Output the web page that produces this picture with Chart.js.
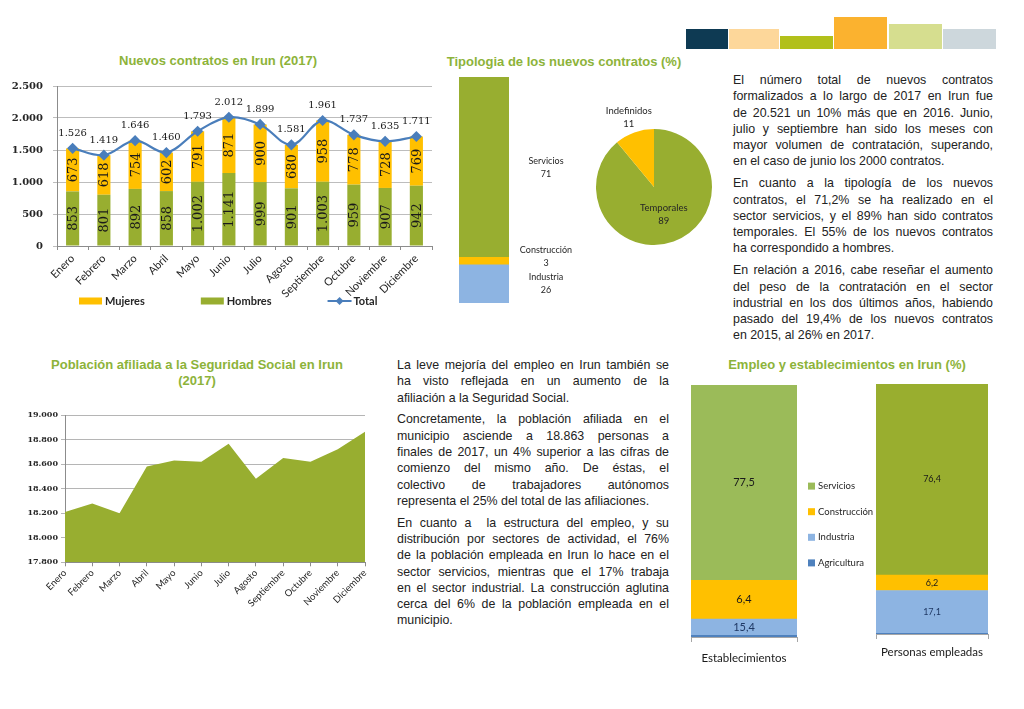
<!DOCTYPE html>
<html lang="es">
<head>
<meta charset="utf-8">
<title>Empleo y contratación en Irun (2017)</title>
<script src="https://cdn.jsdelivr.net/npm/chart.js@4.4.1/dist/chart.umd.min.js"></script>
<style>
  html, body { margin: 0; padding: 0; background: #fff; }
  body { position: relative; width: 1024px; height: 709px; overflow: hidden; font-family: "Liberation Sans", Arial, sans-serif; }
  canvas, .titulo, .texto, .deco { position: absolute; }
  .titulo { color: #8db33a; font-weight: bold; font-size: 13px; line-height: 16px; text-align: center; }
  .texto { font-size: 12.4px; line-height: 16.3px; color: #222; }
  .texto p { margin: 0 0 5.5px; }
  .texto span { display: block; white-space: nowrap; text-align: justify; text-align-last: justify; }
  .texto span:last-child { text-align-last: left; }
</style>
</head>
<body>

<div class="deco" style="left:686px;top:29px;width:42px;height:20px;background:#0e3a53"></div>
<div class="deco" style="left:729px;top:29px;width:50px;height:20px;background:#fdd79a"></div>
<div class="deco" style="left:780px;top:36px;width:53px;height:13px;background:#b2c01b"></div>
<div class="deco" style="left:834px;top:17px;width:53px;height:32px;background:#fbb22f"></div>
<div class="deco" style="left:889px;top:24px;width:53px;height:25px;background:#d6de8f"></div>
<div class="deco" style="left:943px;top:29px;width:53px;height:20px;background:#cdd7dc"></div>

<div class="titulo" style="left:0;top:53px;width:436px">Nuevos contratos en Irun (2017)</div>
<div class="titulo" style="left:440px;top:54px;width:248px">Tipologia de los nuevos contratos (%)</div>
<div class="titulo" style="left:0;top:357px;width:394px">Población afiliada a la Seguridad Social en Irun<br>(2017)</div>
<div class="titulo" style="left:700px;top:357px;width:294px">Empleo y establecimientos en Irun (%)</div>

<canvas id="graficoContratos" width="440" height="246" style="left:0;top:70px"></canvas>
<canvas id="graficoSector" width="160" height="240" style="left:440px;top:70px"></canvas>
<canvas id="graficoTipo" width="140" height="160" style="left:580px;top:95px"></canvas>
<canvas id="graficoAfiliados" width="390" height="235" style="left:0;top:395px"></canvas>
<canvas id="graficoEstab" width="195" height="295" style="left:680px;top:375px"></canvas>
<canvas id="graficoPersonas" width="135" height="295" style="left:865px;top:375px"></canvas>

<div class="texto" style="left:733px;top:72px;width:260px">
  <p>
    <span>El número total de nuevos contratos</span>
    <span>formalizados a lo largo de 2017 en Irun fue</span>
    <span>de 20.521 un 10% más que en 2016. Junio,</span>
    <span>julio y septiembre han sido los meses con</span>
    <span>mayor volumen de contratación, superando,</span>
    <span>en el caso de junio los 2000 contratos.</span>
  </p>
  <p>
    <span>En cuanto a la tipología de los nuevos</span>
    <span>contratos, el 71,2% se ha realizado en el</span>
    <span>sector servicios, y el 89% han sido contratos</span>
    <span>temporales. El 55% de los nuevos contratos</span>
    <span>ha correspondido a hombres.</span>
  </p>
  <p>
    <span>En relación a 2016, cabe reseñar el aumento</span>
    <span>del peso de la contratación en el sector</span>
    <span>industrial en los dos últimos años, habiendo</span>
    <span>pasado del 19,4% de los nuevos contratos</span>
    <span>en 2015, al 26% en 2017.</span>
  </p>
</div>

<div class="texto" style="left:397px;top:357px;width:272px">
  <p>
    <span>La leve mejoría del empleo en Irun también se</span>
    <span>ha visto reflejada en un aumento de la</span>
    <span>afiliación a la Seguridad Social.</span>
  </p>
  <p>
    <span>Concretamente, la población afiliada en el</span>
    <span>municipio asciende a 18.863 personas a</span>
    <span>finales de 2017, un 4% superior a las cifras de</span>
    <span>comienzo del mismo año. De éstas, el</span>
    <span>colectivo de trabajadores autónomos</span>
    <span>representa el 25% del total de las afiliaciones.</span>
  </p>
  <p>
    <span>En cuanto a &nbsp;la estructura del empleo, y su</span>
    <span>distribución por sectores de actividad, el 76%</span>
    <span>de la población empleada en Irun lo hace en el</span>
    <span>sector servicios, mientras que el 17% trabaja</span>
    <span>en el sector industrial. La construcción aglutina</span>
    <span>cerca del 6% de la población empleada en el</span>
    <span>municipio.</span>
  </p>
</div>

<script>
// --- datos ---
const meses = ['Enero', 'Febrero', 'Marzo', 'Abril', 'Mayo', 'Junio', 'Julio',
  'Agosto', 'Septiembre', 'Octubre', 'Noviembre', 'Diciembre'];
const hombres = [853, 801, 892, 858, 1002, 1141, 999, 901, 1003, 959, 907, 942];
const mujeres = [673, 618, 754, 602, 791, 871, 900, 680, 958, 778, 728, 769];
const totalContratos = [1526, 1419, 1646, 1460, 1793, 2012, 1899, 1581, 1961, 1737, 1635, 1711];

const sectoresContrato = ['Industria', 'Construcción', 'Servicios'];
const pctSectoresContrato = [26, 3, 71];

const tiposContrato = ['Temporales', 'Indefinidos'];
const pctTiposContrato = [89, 11];

const afiliados = [18210, 18280, 18200, 18580, 18630, 18620, 18765, 18480, 18650, 18620, 18720, 18863];

const empleoCategorias = ['Establecimientos', 'Personas empleadas'];
// alturas de los tramos tal como se ven
const empServicios = [77.5, 76.4];
const empConstruccion = [15.4, 6.2];
const empIndustria = [6.4, 17.1];
const empAgricultura = [0.7, 0.3];
// rótulos impresos en el original (en Establecimientos van cruzados con la altura)
const rotuloServicios = ['77,5', '76,4'];
const rotuloConstruccion = ['6,4', '6,2'];
const rotuloIndustria = ['15,4', '17,1'];

// --- colores ---
const verde = '#98ae30';
const amarillo = '#ffc000';
const azulLinea = '#4a7ebb';
const azulClaro = '#8db4e2';
const azulOscuro = '#4f81bd';
const verdeServicios = ['#9bbb59', '#99ae2f'];

Chart.defaults.font.family = 'Lato';
Chart.defaults.color = '#262626';
Chart.defaults.animation = false;
Chart.defaults.responsive = false;
Chart.defaults.plugins.legend.display = false;
Chart.defaults.plugins.tooltip.enabled = false;

const miles = n => String(n).replace(/\B(?=(\d{3})+(?!\d))/g, '.');

// ---------- Nuevos contratos ----------
const etiquetasContratos = {
  id: 'etiquetasContratos',
  afterDatasetsDraw(chart) {
    const ctx = chart.ctx;
    ctx.save();
    ctx.textAlign = 'center';
    ctx.textBaseline = 'middle';
    ctx.fillStyle = '#1a1a1a';
    chart.data.datasets.forEach((ds, i) => {
      chart.getDatasetMeta(i).data.forEach((el, j) => {
        const txt = miles(ds.data[j]);
        if (ds.type === 'line') {
          ctx.font = '10px "DejaVu Serif"';
          ctx.fillText(txt, el.x, el.y - 15);
        } else {
          ctx.save();
          ctx.translate(el.x, (el.y + el.base) / 2);
          ctx.rotate(-Math.PI / 2);
          ctx.font = '13px "DejaVu Serif"';
          ctx.fillText(txt, 0, 1);
          ctx.restore();
        }
      });
    });
    ctx.restore();
  }
};

// leyenda a mano: Mujeres, Hombres, Total
const leyendaContratos = {
  id: 'leyendaContratos',
  afterDraw(chart) {
    const ctx = chart.ctx;
    const y = chart.chartArea.bottom + 55;
    let x = 79;
    ctx.save();
    ctx.font = 'bold 11px Lato';
    ctx.textBaseline = 'middle';
    [2, 1, 0].forEach(i => {
      const ds = chart.data.datasets[i];
      if (ds.type === 'line') {
        ctx.strokeStyle = ds.borderColor;
        ctx.fillStyle = ds.borderColor;
        ctx.lineWidth = 2;
        ctx.beginPath();
        ctx.moveTo(x, y);
        ctx.lineTo(x + 24, y);
        ctx.stroke();
        ctx.beginPath();
        ctx.moveTo(x + 12, y - 4); ctx.lineTo(x + 16, y); ctx.lineTo(x + 12, y + 4); ctx.lineTo(x + 8, y);
        ctx.closePath();
        ctx.fill();
        x += 26;
      } else {
        ctx.fillStyle = ds.backgroundColor;
        ctx.fillRect(x, y - 3.5, 23, 7);
        x += 26;
      }
      ctx.fillStyle = '#262626';
      ctx.fillText(ds.label, x, y);
      x += ctx.measureText(ds.label).width + 56;
    });
    ctx.restore();
  }
};

new Chart(document.getElementById('graficoContratos'), {
  type: 'bar',
  data: {
    labels: meses,
    datasets: [
      {
        type: 'line', label: 'Total', data: totalContratos, stack: 'total', order: 0,
        borderColor: azulLinea, backgroundColor: azulLinea, borderWidth: 2.25,
        pointStyle: 'rectRot', pointRadius: 4, pointBackgroundColor: azulLinea,
        tension: 0.35
      },
      { label: 'Hombres', data: hombres, stack: 'sexo', order: 1, backgroundColor: verde },
      { label: 'Mujeres', data: mujeres, stack: 'sexo', order: 1, backgroundColor: amarillo }
    ]
  },
  options: {
    layout: { padding: { top: 10, right: 8, left: 0, bottom: 0 } },
    datasets: { bar: { barPercentage: 0.42, categoryPercentage: 1 } },
    scales: {
      x: {
        stacked: true,
        grid: { drawOnChartArea: false, tickLength: 4, color: '#8c8c8c' },
        border: { color: '#8c8c8c' },
        ticks: { autoSkip: false, minRotation: 45, maxRotation: 45, padding: 2, font: { size: 11 } },
        afterFit(s) { s.height = 70; }
      },
      y: {
        stacked: true, min: 0, max: 2500,
        grid: { color: '#bdbdbd', tickLength: 4 },
        border: { color: '#8c8c8c' },
        ticks: {
          stepSize: 500, padding: 10, callback: v => miles(v),
          font: { family: 'DejaVu Serif', size: 10, weight: 'bold' }
        },
        afterFit(s) { s.width = 57; }
      }
    }
  },
  plugins: [etiquetasContratos, leyendaContratos]
});

// ---------- Tipología: sectores ----------
const coloresSector = [azulClaro, amarillo, verde];

const etiquetasSector = {
  id: 'etiquetasSector',
  afterDatasetsDraw(chart) {
    const { ctx, chartArea } = chart;
    ctx.save();
    ctx.font = '9px Lato';
    ctx.fillStyle = '#262626';
    ctx.textAlign = 'center';
    ctx.textBaseline = 'middle';
    let previo = Infinity;
    chart.data.datasets.forEach((ds, i) => {
      const el = chart.getDatasetMeta(i).data[0];
      let cy = (Math.min(el.base, chartArea.bottom) + Math.max(el.y, chartArea.top)) / 2;
      cy = Math.min(cy, previo - 27);
      previo = cy;
      ctx.fillText(ds.label, el.x + 62, cy - 6.5);
      ctx.fillText(String(ds.data[0]), el.x + 62, cy + 6.5);
    });
    ctx.restore();
  }
};

new Chart(document.getElementById('graficoSector'), {
  type: 'bar',
  data: {
    labels: [''],
    datasets: sectoresContrato.map((s, i) => ({
      label: s, data: [pctSectoresContrato[i]], backgroundColor: coloresSector[i], clip: 0
    }))
  },
  options: {
    layout: { padding: { left: 19, right: 91, top: 7, bottom: 7 } },
    datasets: { bar: { barPercentage: 1, categoryPercentage: 1 } },
    scales: {
      x: { display: false, stacked: true },
      y: { display: false, stacked: true, min: 11, max: 100 }
    }
  },
  plugins: [etiquetasSector]
});

// ---------- Tipología: temporales / indefinidos ----------
const etiquetasTipo = {
  id: 'etiquetasTipo',
  afterDatasetsDraw(chart) {
    const ctx = chart.ctx;
    const ds = chart.data.datasets[0];
    const suma = ds.data.reduce((a, b) => a + b, 0);
    ctx.save();
    ctx.font = '9.5px Lato';
    ctx.fillStyle = '#262626';
    ctx.textAlign = 'center';
    ctx.textBaseline = 'middle';
    chart.getDatasetMeta(0).data.forEach((arc, i) => {
      const { x, y, startAngle, endAngle, outerRadius } = arc.getProps(['x', 'y', 'startAngle', 'endAngle', 'outerRadius'], true);
      const medio = (startAngle + endAngle) / 2;
      const dist = ds.data[i] / suma < 0.2 ? outerRadius * 1.28 : outerRadius * 0.5;
      const cx = x + Math.cos(medio) * dist;
      const cy = y + Math.sin(medio) * dist;
      ctx.fillText(chart.data.labels[i], cx, cy - 6.5);
      ctx.fillText(String(ds.data[i]), cx, cy + 6.5);
    });
    ctx.restore();
  }
};

new Chart(document.getElementById('graficoTipo'), {
  type: 'pie',
  data: {
    labels: tiposContrato,
    datasets: [{ data: pctTiposContrato, backgroundColor: [verde, amarillo], borderWidth: 0 }]
  },
  options: {
    layout: { padding: { left: 16, top: 34, right: 8, bottom: 10 } }
  },
  plugins: [etiquetasTipo]
});

// ---------- Población afiliada ----------
new Chart(document.getElementById('graficoAfiliados'), {
  type: 'line',
  data: {
    labels: meses,
    datasets: [{
      data: afiliados, fill: 'start', backgroundColor: verde, borderColor: verde,
      borderWidth: 0, pointRadius: 0, tension: 0
    }]
  },
  options: {
    layout: { padding: { top: 20, right: 25, left: 0, bottom: 0 } },
    scales: {
      x: {
        offset: false,
        grid: { drawOnChartArea: false, tickLength: 4, color: '#8c8c8c' },
        border: { color: '#8c8c8c' },
        ticks: { autoSkip: false, minRotation: 45, maxRotation: 45, padding: 1, font: { size: 9.5 } },
        afterFit(s) { s.height = 67.7; }
      },
      y: {
        min: 17800, max: 19000,
        grid: { color: '#b5b5b5', tickLength: 4 },
        border: { color: '#8c8c8c' },
        ticks: {
          stepSize: 200, padding: 3, callback: v => miles(v),
          font: { family: 'DejaVu Serif', size: 8, weight: 'bold' }
        },
        afterFit(s) { s.width = 65; }
      }
    }
  }
});

// ---------- Empleo y establecimientos ----------
function datosEmpleo(i) {
  return [
    { label: 'Agricultura', data: [empAgricultura[i]], backgroundColor: azulOscuro, rotulo: null },
    { label: 'Industria', data: [empIndustria[i]], backgroundColor: azulClaro, rotulo: rotuloIndustria[i], tinta: '#1f3864' },
    { label: 'Construcción', data: [empConstruccion[i]], backgroundColor: amarillo, rotulo: rotuloConstruccion[i], tinta: '#1a1a1a' },
    { label: 'Servicios', data: [empServicios[i]], backgroundColor: verdeServicios[i], rotulo: rotuloServicios[i], tinta: '#1a1a1a' }
  ];
}

const rotulosEmpleo = {
  id: 'rotulosEmpleo',
  afterDatasetsDraw(chart, args, opts) {
    const ctx = chart.ctx;
    ctx.save();
    ctx.font = opts.tamano + 'px Lato';
    ctx.textAlign = 'center';
    ctx.textBaseline = 'middle';
    chart.data.datasets.forEach((ds, i) => {
      if (!ds.rotulo) return;
      const el = chart.getDatasetMeta(i).data[0];
      ctx.fillStyle = ds.tinta;
      ctx.fillText(ds.rotulo, el.x, (el.y + el.base) / 2);
    });
    ctx.restore();
  }
};

const leyendaEmpleo = {
  id: 'leyendaEmpleo',
  afterDraw(chart) {
    const { ctx, chartArea } = chart;
    const paso = 25.6;
    const lista = chart.data.datasets.slice().reverse();
    const x0 = chartArea.right + 11;
    let y = (chartArea.top + chartArea.bottom) / 2 + 13.5 - paso * (lista.length - 1) / 2;
    ctx.save();
    ctx.font = '9.5px Lato';
    ctx.textBaseline = 'middle';
    lista.forEach(ds => {
      ctx.fillStyle = ds.backgroundColor;
      ctx.fillRect(x0, y - 3.5, 7, 7);
      ctx.fillStyle = '#262626';
      ctx.fillText(ds.label, x0 + 10, y);
      y += paso;
    });
    ctx.restore();
  }
};

function opcionesEmpleo(padding, alturaEje, sepEtiqueta, tamano) {
  return {
    layout: { padding },
    datasets: { bar: { barPercentage: 1, categoryPercentage: 1 } },
    scales: {
      x: {
        stacked: true,
        grid: { drawOnChartArea: false, tickLength: 5, color: '#a6a6a6' },
        border: { color: '#a6a6a6' },
        ticks: { padding: sepEtiqueta, font: { size: 11.5 }, color: '#1a1a1a' },
        afterFit(s) { s.height = alturaEje; }
      },
      y: { display: false, stacked: true, min: 0, max: 100 }
    },
    plugins: { rotulosEmpleo: { tamano } }
  };
}

new Chart(document.getElementById('graficoEstab'), {
  type: 'bar',
  data: { labels: [empleoCategorias[0]], datasets: datosEmpleo(0) },
  options: opcionesEmpleo({ left: 11, right: 78, top: 10, bottom: 0 }, 33, 9, 11),
  plugins: [rotulosEmpleo, leyendaEmpleo]
});

new Chart(document.getElementById('graficoPersonas'), {
  type: 'bar',
  data: { labels: [empleoCategorias[1]], datasets: datosEmpleo(1) },
  options: opcionesEmpleo({ left: 11, right: 12, top: 9, bottom: 0 }, 36, 6, 9),
  plugins: [rotulosEmpleo]
});
</script>
</body>
</html>
